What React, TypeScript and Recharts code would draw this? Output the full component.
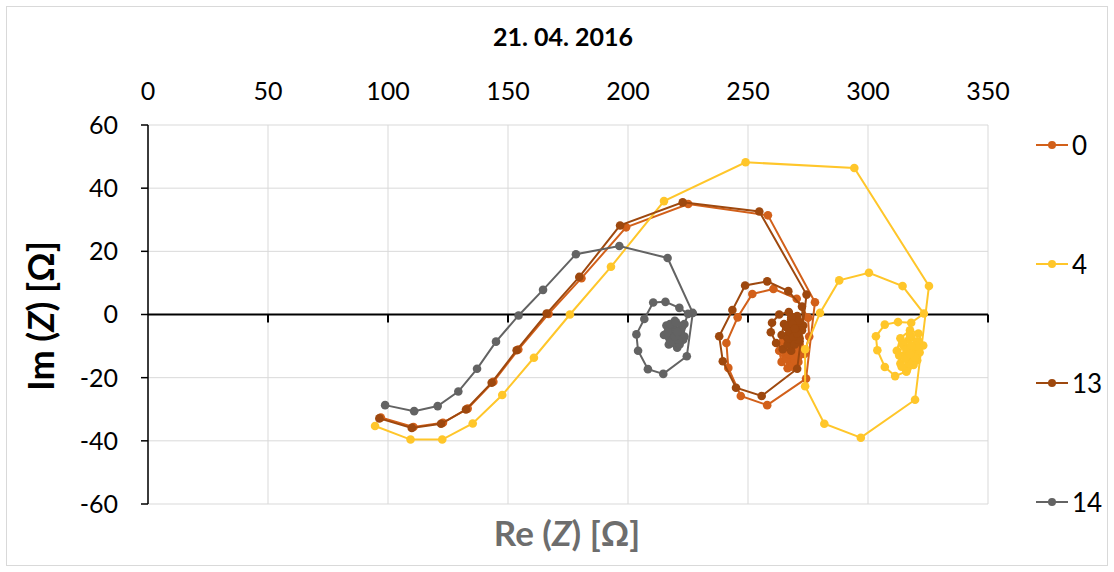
import React from "react";
import {
  ScatterChart,
  Scatter,
  XAxis,
  YAxis,
  CartesianGrid,
  ReferenceLine,
  Legend,
} from "recharts";

// Re (Z) / Im (Z), one pair of arrays per series
const s0Re = [97.0, 110.6, 122.9, 133.2, 143.9, 154.3, 166.9, 180.6, 199.2, 225.1, 258.3, 277.9, 274.2, 258.0, 247.0, 241.8, 241.0, 245.7, 251.8, 260.6, 270.3, 275.0, 275.5, 273.5, 270.0, 266.5, 264.0, 263.0, 264.5, 267.5, 270.5, 272.0, 270.5, 267.5, 265.5, 266.0, 268.5, 271.0, 270.0, 268.0, 267.5, 269.0, 271.5, 272.5, 271.0, 268.5, 266.0, 265.0, 266.5, 269.5, 271.0, 269.5, 267.0, 268.0, 270.0, 269.0];
const s0Im = [-32.6, -35.6, -34.3, -29.8, -21.3, -11.1, 0.2, 11.5, 27.6, 35.0, 31.4, 3.9, -20.3, -28.7, -25.8, -16.9, -9.0, -0.9, 6.5, 8.1, 5.0, -1.0, -7.0, -12.5, -16.0, -17.0, -15.0, -11.5, -8.5, -7.0, -8.0, -11.0, -14.5, -15.5, -13.0, -10.0, -9.0, -10.5, -13.0, -13.5, -11.5, -11.0, -9.5, -12.0, -15.0, -16.5, -14.0, -11.0, -9.5, -10.0, -12.5, -14.5, -12.5, -11.5, -12.0, -13.0];

const s4Re = [94.6, 109.4, 122.6, 135.3, 147.6, 160.8, 175.8, 192.9, 215.0, 249.0, 294.3, 325.4, 319.6, 297.0, 281.8, 273.8, 273.8, 280.0, 288.0, 300.4, 314.4, 323.3, 318.0, 312.5, 307.0, 303.3, 303.9, 307.0, 311.3, 316.0, 320.5, 323.0, 321.0, 317.5, 313.5, 312.0, 313.5, 316.5, 319.5, 320.0, 317.0, 314.5, 315.0, 317.5, 318.5, 316.5, 318.0, 320.5, 321.5, 319.0, 316.0, 314.0, 313.0, 314.5, 317.5, 320.0, 319.5, 317.0, 315.5, 316.0, 318.0, 317.5];
const s4Im = [-35.3, -39.6, -39.6, -34.5, -25.5, -13.7, 0.0, 15.1, 35.9, 48.2, 46.4, 9.0, -27.0, -39.0, -34.6, -22.7, -11.0, 0.5, 10.8, 13.2, 9.0, 0.3, -2.6, -2.4, -3.2, -6.9, -11.3, -16.6, -19.5, -18.0, -14.5, -9.8, -6.0, -5.0, -7.5, -11.5, -15.5, -17.0, -14.0, -10.5, -8.0, -9.5, -13.0, -15.0, -12.5, -10.5, -7.0, -8.5, -12.0, -16.0, -18.0, -16.5, -13.0, -9.0, -6.5, -10.0, -13.5, -15.5, -14.0, -11.0, -10.0, -12.5];

const s13Re = [96.4, 109.9, 122.1, 132.5, 143.2, 153.6, 166.1, 179.7, 196.7, 222.8, 254.7, 274.4, 270.5, 255.7, 245.0, 239.5, 238.0, 243.5, 248.8, 258.0, 266.8, 272.5, 273.0, 271.5, 268.0, 264.5, 261.7, 259.5, 260.0, 263.0, 267.0, 270.5, 272.0, 270.0, 266.5, 264.0, 265.0, 268.0, 270.5, 271.0, 269.0, 267.0, 268.5, 270.0, 269.0, 271.5, 272.5, 271.0, 268.0, 266.0, 267.0, 269.5, 271.0, 270.0, 268.5, 267.5, 269.0, 270.5, 269.5];
const s13Im = [-32.9, -35.9, -34.6, -30.1, -21.6, -11.3, 0.3, 11.9, 28.2, 35.5, 32.6, 6.3, -17.2, -25.8, -23.2, -14.8, -6.9, 1.4, 9.2, 10.5, 7.4, 2.5, -3.5, -8.5, -11.5, -11.0, -9.0, -5.6, -2.6, 0.0, 0.8, -0.5, -4.0, -8.0, -9.5, -6.5, -3.0, -1.5, -3.0, -6.5, -8.5, -6.0, -3.5, -5.0, -6.5, -7.5, -5.0, -2.0, -1.0, -4.0, -7.5, -9.5, -8.0, -5.5, -3.0, -5.5, -7.0, -6.0, -4.5];

const s14Re = [98.8, 110.9, 120.7, 129.3, 137.1, 145.0, 154.4, 164.6, 178.3, 196.4, 216.5, 227.0, 224.5, 214.7, 208.3, 204.2, 203.5, 206.8, 210.5, 215.6, 221.4, 225.0, 223.5, 219.5, 216.0, 215.0, 217.0, 220.5, 223.0, 222.0, 219.0, 217.5, 218.5, 221.0, 222.0, 220.0, 219.0, 220.5, 221.0, 220.0, 222.5, 223.5, 221.5, 218.0, 216.5, 217.5, 220.0, 222.0, 221.0, 219.5, 220.5];
const s14Im = [-28.7, -30.6, -29.0, -24.4, -17.2, -8.6, -0.3, 7.8, 19.1, 21.7, 17.9, 0.5, -13.2, -18.8, -17.3, -11.5, -6.3, -1.4, 3.8, 4.0, 2.1, 0.2, -3.0, -2.0, -3.5, -6.5, -9.5, -10.5, -8.0, -5.0, -4.5, -7.0, -9.0, -8.0, -5.5, -5.0, -6.5, -7.5, -6.0, -6.5, -4.0, -7.0, -9.5, -8.5, -5.5, -3.0, -2.5, -5.0, -8.0, -7.0, -5.5];

const xTicks = [0, 50, 100, 150, 200, 250, 300, 350];
const yTicks = [-60, -40, -20, 0, 20, 40, 60];

const FONT = "Lato, 'Noto Sans', sans-serif";

const toPoints = (re: number[], im: number[]) =>
  re.map((x, i) => ({ x, y: im[i] }));

const series = [
  { name: "0", color: "#D2601A", data: toPoints(s0Re, s0Im) },
  { name: "4", color: "#FFC62A", data: toPoints(s4Re, s4Im) },
  { name: "13", color: "#9E480E", data: toPoints(s13Re, s13Im) },
  { name: "14", color: "#636363", data: toPoints(s14Re, s14Im) },
];

// legend rows sit far apart, like the original
const legendTops = [0, 119, 238, 357];

const LegendBox = () => (
  <div style={{ position: "relative", width: 80, height: 390 }}>
    {series.map((s, i) => (
      <div
        key={s.name}
        style={{
          position: "absolute",
          top: legendTops[i],
          left: 0,
          height: 36,
          display: "flex",
          alignItems: "center",
          fontFamily: FONT,
          fontSize: 26,
          color: "#000",
        }}
      >
        <svg width={33} height={12}>
          <line x1={0} y1={6} x2={32} y2={6} stroke={s.color} strokeWidth={2} />
          <circle cx={16} cy={6} r={4} fill={s.color} />
        </svg>
        <span style={{ marginLeft: 3 }}>{s.name}</span>
      </div>
    ))}
  </div>
);

export default function App() {
  return (
    <div
      style={{
        position: "absolute",
        left: 6,
        top: 6,
        width: 1100,
        height: 558,
        border: "1px solid #d9d9d9",
        background: "#fff",
        fontFamily: FONT,
      }}
    >
      <div
        style={{
          position: "absolute",
          left: 556,
          top: 17,
          transform: "translateX(-50%)",
          fontSize: 25,
          fontWeight: 700,
          lineHeight: 1,
          whiteSpace: "nowrap",
        }}
      >
        21. 04. 2016
      </div>
      <div
        style={{
          position: "absolute",
          left: 33,
          top: 309,
          transform: "translate(-50%, -50%) rotate(-90deg)",
          fontSize: 36,
          fontWeight: 700,
          lineHeight: 1,
          whiteSpace: "nowrap",
        }}
      >
        Im (<i>Z</i>) [Ω]
      </div>
      <div
        style={{
          position: "absolute",
          left: 560,
          top: 525,
          transform: "translate(-50%, -50%)",
          fontSize: 35,
          fontWeight: 700,
          lineHeight: 1,
          color: "#6d6d6d",
          whiteSpace: "nowrap",
        }}
      >
        Re (<i>Z</i>) [Ω]
      </div>

      <ScatterChart
        width={1100}
        height={558}
        margin={{ top: 78, right: 119, bottom: 61, left: 0 }}
      >
        <CartesianGrid stroke="#d9d9d9" strokeWidth={1} />
        <XAxis
          type="number"
          dataKey="x"
          orientation="top"
          domain={[0, 350]}
          ticks={xTicks}
          height={40}
          axisLine={false}
          tickLine={false}
          tickSize={8}
          tickMargin={17}
          tick={{ fill: "#000", fontSize: 25, fontFamily: FONT }}
        />
        <YAxis
          type="number"
          dataKey="y"
          domain={[-60, 60]}
          ticks={yTicks}
          width={141}
          axisLine={{ stroke: "#000", strokeWidth: 1.5 }}
          tickLine={{ stroke: "#000", strokeWidth: 1.5 }}
          tickSize={7}
          tickMargin={23}
          tick={{ fill: "#000", fontSize: 25, fontFamily: FONT }}
        />
        <ReferenceLine y={0} stroke="#000" strokeWidth={2} />
        {xTicks.slice(1).map((v) => (
          <ReferenceLine
            key={`zt-${v}`}
            segment={[
              { x: v, y: 0 },
              { x: v, y: -2.5 },
            ]}
            stroke="#000"
            strokeWidth={2}
          />
        ))}
        {series.map((s) => (
          <Scatter
            key={s.name}
            name={s.name}
            data={s.data}
            fill={s.color}
            line={{ stroke: s.color, strokeWidth: 2 }}
            lineType="joint"
            isAnimationActive={false}
            shape={(p: any) => <circle cx={p.cx} cy={p.cy} r={4.3} fill={s.color} />}
          />
        ))}
        <Legend
          layout="horizontal"
          align="center"
          verticalAlign="middle"
          content={() => <LegendBox />}
          wrapperStyle={{ left: 1029, top: 120, width: 80, height: 400 }}
        />
      </ScatterChart>
    </div>
  );
}
